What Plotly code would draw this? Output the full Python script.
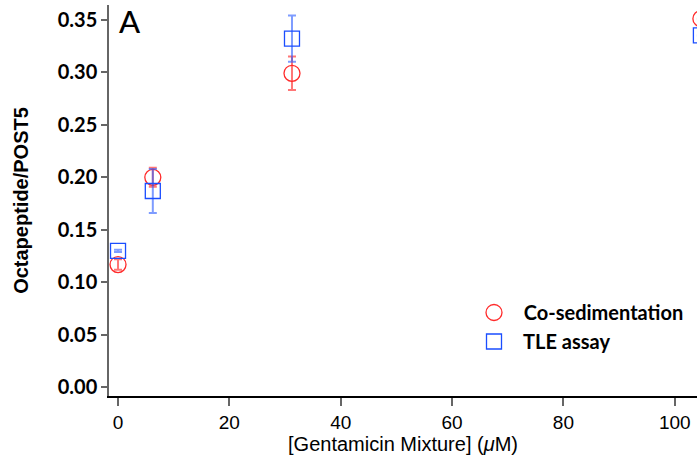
import plotly.graph_objects as go

# Data
cosed_x = [0, 6.25, 31.25, 104.7]
cosed_y = [0.117, 0.200, 0.299, 0.351]
cosed_err = [0.005, 0.009, 0.016, 0.0]

tle_x = [0, 6.25, 31.25, 104.7]
tle_y = [0.130, 0.187, 0.332, 0.335]
tle_err = [0.001, 0.021, 0.022, 0.0]

y_ticks = [0.00, 0.05, 0.10, 0.15, 0.20, 0.25, 0.30, 0.35]
x_ticks = [0, 20, 40, 60, 80, 100]

fig = go.Figure()
fig.add_trace(go.Scatter(
    x=cosed_x, y=cosed_y, mode="markers", name="  Co-sedimentation",
    marker=dict(symbol="circle-open", size=16, color="#ff2a2a", line=dict(width=1.3)),
    error_y=dict(type="data", array=cosed_err, visible=True, color="rgba(255,60,60,0.7)",
                 thickness=2, width=4),
))
fig.add_trace(go.Scatter(
    x=tle_x, y=tle_y, mode="markers", name="  TLE assay",
    marker=dict(symbol="square-open", size=15, color="#1a4dff", line=dict(width=1.3)),
    error_y=dict(type="data", array=tle_err, visible=True, color="rgba(40,90,255,0.6)",
                 thickness=2, width=4),
))

fig.update_layout(
    width=697, height=466,
    margin=dict(l=109, r=0, t=5, b=70),
    paper_bgcolor="white", plot_bgcolor="white",
    showlegend=True,
    legend=dict(x=(474 - 109) / (697 - 109), y=(396 - 293) / (396 - 5), xanchor="left", yanchor="top",
                font=dict(family="Lato", size=20, color="black", weight="bold"),
                bgcolor="rgba(0,0,0,0)", tracegroupgap=0),
    annotations=[dict(text="A", x=0.013, y=1.012, xref="paper", yref="paper",
                      xanchor="left", yanchor="top", showarrow=False,
                      font=dict(family="Lato", size=31, color="black", weight=500))],
)
fig.update_xaxes(
    range=[-1.62, 104.0], tickvals=x_ticks, ticktext=[str(v) for v in x_ticks],
    showgrid=False, zeroline=False, showline=True, linecolor="black", linewidth=1.5,
    ticks="outside", ticklen=8, tickcolor="#666", tickwidth=1.5,
    tickfont=dict(family="Liberation Sans Narrow, Liberation Sans", size=19, color="black"),
    title=dict(text="[Gentamicin Mixture] (<i>μ</i>M)",
               font=dict(family="Liberation Sans Narrow, Liberation Sans", size=20, color="black"),
               standoff=3),
)
fig.update_yaxes(
    range=[-0.0081, 0.364], tickvals=y_ticks, ticktext=[f"{v:.2f}" for v in y_ticks],
    showgrid=False, zeroline=False, showline=True, linecolor="#666", linewidth=1.5,
    ticks="outside", ticklen=6, tickcolor="#666", tickwidth=1.5,
    tickfont=dict(family="Lato", size=20, color="black", weight="bold"),
    title=dict(text="Octapeptide/POST5",
               font=dict(family="Liberation Sans", size=20, color="black", weight="bold"),
               standoff=24),
)

fig.write_html("out.html")
